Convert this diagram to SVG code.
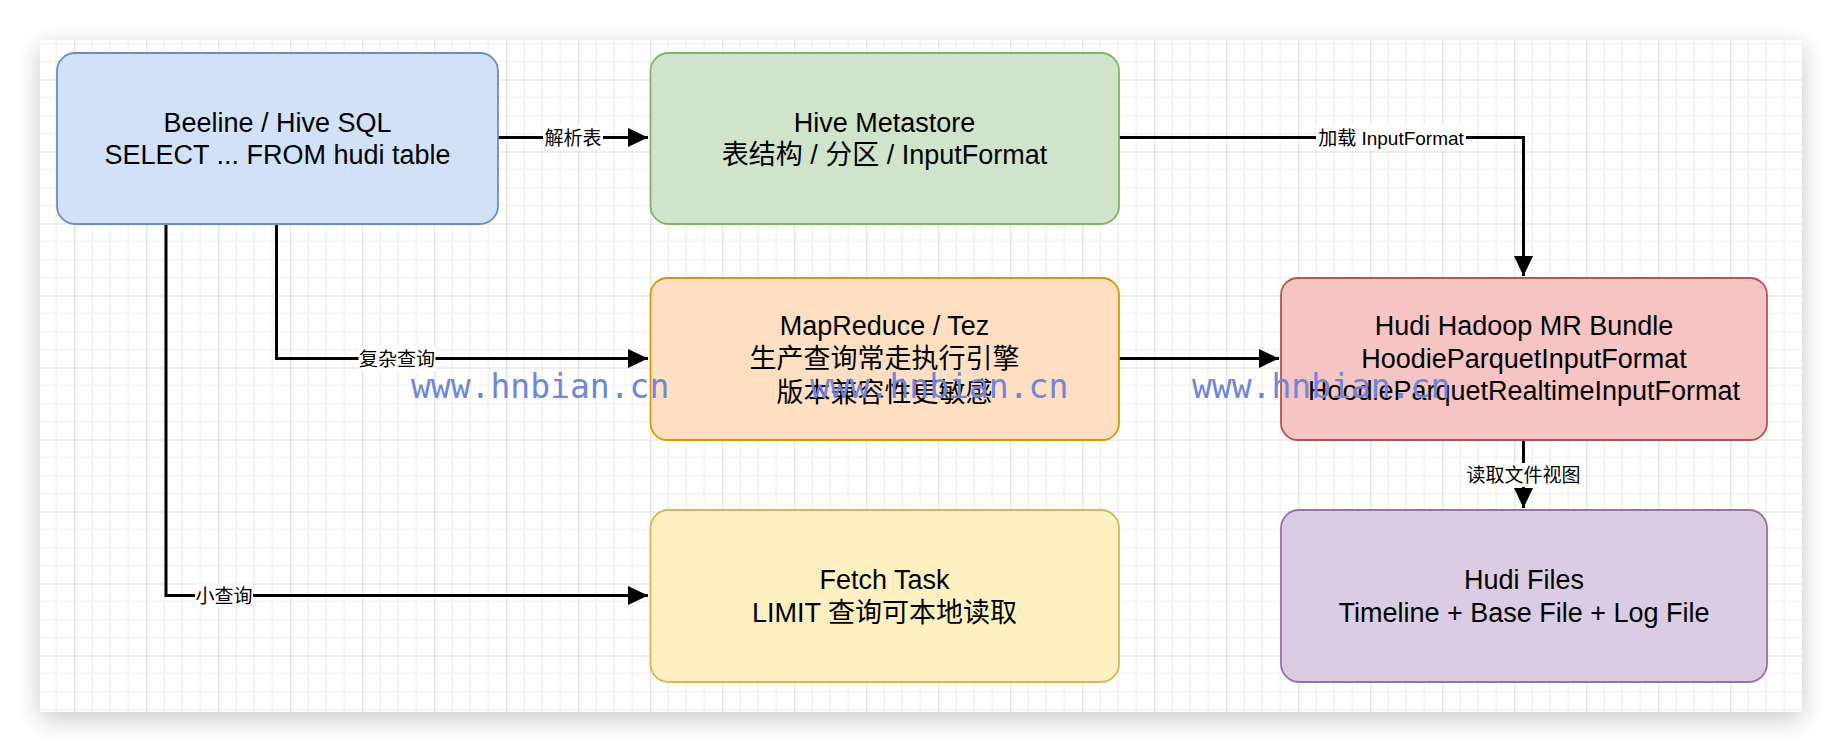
<svg xmlns="http://www.w3.org/2000/svg" width="1842" height="752" viewBox="0 0 1842 752">
<defs>
<pattern id="grid" x="2.3" y="7.5" width="72" height="72" patternUnits="userSpaceOnUse">
<path d="M18 0V72M36 0V72M54 0V72M0 18H72M0 36H72M0 54H72" stroke="#f2f2f2" stroke-width="1.6" fill="none"/>
<path d="M0.5 0V72M0 0.5H72" stroke="#dcdcdc" stroke-width="1" fill="none"/>
</pattern>
<filter id="shadow" x="-10%" y="-20%" width="120%" height="140%">
<feGaussianBlur in="SourceAlpha" stdDeviation="13"/>
<feOffset dy="7" result="b"/>
<feComponentTransfer><feFuncA type="linear" slope="0.22"/></feComponentTransfer>
<feMerge><feMergeNode/><feMergeNode in="SourceGraphic"/></feMerge>
</filter>
<marker id="arr" markerUnits="userSpaceOnUse" markerWidth="22" markerHeight="20" refX="20" refY="9.5" orient="auto">
<path d="M0 0L20 9.5L0 19Z" fill="#000"/>
</marker>
<style>
.node text{font-family:"Liberation Sans","Noto Sans CJK SC",sans-serif;font-size:27px;fill:#000;text-anchor:middle}
.box{stroke-width:1.8}
.edge{fill:none;stroke:#000;stroke-width:3}
.lbl-bg{fill:#fff}
.lbl{font-family:"Liberation Sans","Noto Sans CJK SC",sans-serif;font-size:19px;fill:#000;text-anchor:middle}
.wm{font-family:"DejaVu Sans Mono",monospace;font-size:33px;fill:#6f86dd}
</style>
</defs>
<rect width="1842" height="752" fill="#fff"/>
<rect x="40" y="40" width="1762" height="672" fill="#fff" filter="url(#shadow)"/>
<rect x="40" y="40" width="1762" height="672" fill="url(#grid)"/>

<g id="connectors">
<path class="edge" d="M498 137.5H648" marker-end="url(#arr)"/>
<path class="edge" d="M1119 137.5H1523.5V276" marker-end="url(#arr)"/>
<path class="edge" d="M276.5 224V358.5H648" marker-end="url(#arr)"/>
<path class="edge" d="M166 224V595.5H648" marker-end="url(#arr)"/>
<path class="edge" d="M1119 358.5H1279" marker-end="url(#arr)"/>
<path class="edge" d="M1523.5 440V508" marker-end="url(#arr)"/>
<rect class="lbl-bg" x="543" y="125.5" width="60" height="24"/>
<text class="lbl" x="573" y="144.5">解析表</text>
<rect class="lbl-bg" x="1316" y="125.5" width="150" height="24"/>
<text class="lbl" x="1391" y="144.5">加载 InputFormat</text>
<rect class="lbl-bg" x="358.5" y="346.5" width="77" height="24"/>
<text class="lbl" x="397" y="365.5">复杂查询</text>
<rect class="lbl-bg" x="195" y="583.5" width="58" height="24"/>
<text class="lbl" x="224" y="602.5">小查询</text>
<rect class="lbl-bg" x="1465.5" y="463" width="116" height="24"/>
<text class="lbl" x="1523.5" y="482">读取文件视图</text>
</g>

<g id="beeline" class="node">
<rect class="box" x="57" y="53" width="441" height="171" rx="18" fill="#d1e1f8" stroke="#6c8ebf"/>
<text x="277.5" y="131.5">Beeline / Hive SQL</text>
<text x="277.5" y="164">SELECT ... FROM hudi table</text>
</g>

<g id="metastore" class="node">
<rect class="box" x="650.5" y="53" width="468.5" height="171" rx="18" fill="#cfe4ca" stroke="#82b366"/>
<text x="884.5" y="131.5">Hive Metastore</text>
<text x="884.5" y="164">表结构 / 分区 / InputFormat</text>
</g>

<g id="mapreduce" class="node">
<rect class="box" x="650.5" y="278" width="468.5" height="162" rx="17" fill="#ffdfc2" stroke="#d79b00"/>
<text x="884.5" y="335">MapReduce / Tez</text>
<text x="884.5" y="368">生产查询常走执行引擎</text>
<text x="884.5" y="401.5">版本兼容性更敏感</text>
</g>

<g id="fetch" class="node">
<rect class="box" x="650.5" y="510" width="468.5" height="172" rx="18" fill="#fff0c2" stroke="#d6b656"/>
<text x="884.5" y="589">Fetch Task</text>
<text x="884.5" y="621.5">LIMIT 查询可本地读取</text>
</g>

<g id="hudi-mr" class="node">
<rect class="box" x="1281" y="278" width="486" height="162" rx="17" fill="#f5c4c3" stroke="#b85450"/>
<text x="1524" y="335">Hudi Hadoop MR Bundle</text>
<text x="1524" y="367.5">HoodieParquetInputFormat</text>
<text x="1524" y="400">HoodieParquetRealtimeInputFormat</text>
</g>

<g id="hudi-files" class="node">
<rect class="box" x="1281" y="510" width="486" height="172" rx="18" fill="#dbcbe3" stroke="#9673a6"/>
<text x="1524" y="589">Hudi Files</text>
<text x="1524" y="621.5">Timeline + Base File + Log File</text>
</g>

<g id="watermarks">
<text class="wm" x="411" y="398">www.hnbian.cn</text>
<text class="wm" x="810" y="398">www.hnbian.cn</text>
<text class="wm" x="1192" y="398">www.hnbian.cn</text>
</g>
</svg>
